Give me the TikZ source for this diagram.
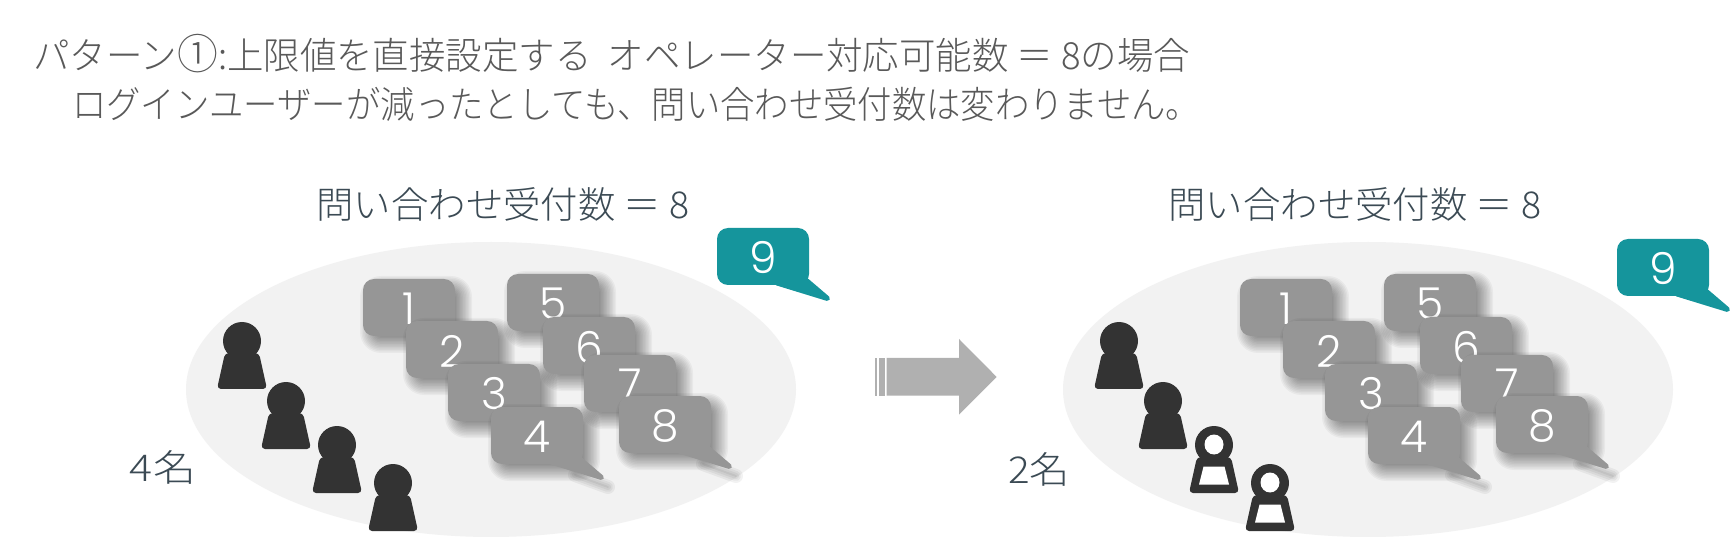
\documentclass[tikz,border=0pt]{standalone}
\usepackage{fontspec}
\setmainfont{Noto Sans CJK JP Light}
\newfontfamily\digf{Poppins Light}
\definecolor{titlegray}{HTML}{595959}
\definecolor{labelc}{HTML}{3B4A54}
\definecolor{ovalc}{HTML}{F2F2F2}
\definecolor{cardc}{HTML}{969696}
\definecolor{tealc}{HTML}{15959C}
\definecolor{darkp}{HTML}{333333}
\definecolor{arrowc}{HTML}{B0B0B0}
\tikzset{
  titletext/.style={anchor=base west,inner sep=0pt,text=titlegray,font=\fontsize{34}{34}\selectfont},
  labeltext/.style={anchor=center,inner sep=0pt,text=labelc,font=\fontsize{37}{37}\selectfont},
  digit/.style={anchor=center,inner sep=0pt,text=white,font=\digf\fontsize{44}{44}\selectfont},
  shadowlayer/.style={fill=black,fill opacity=0.04},
}
\newcommand{\circleone}{\scalebox{1.12}{①}}
% x, y = top-left of bubble
\newcommand{\bubblebox}[2]{(#1,#2+28) [rounded corners=11pt] -- (#1,#2) -- (#1+92,#2) -- (#1+92,#2+57) -- (#1,#2+57) -- cycle}
\newcommand{\bubbletail}[2]{(#1+60,#2+57-2) -- (#1+110.5,#2+57+13.5) -- (#1+90,#2+57-4) -- cycle}
\newcommand{\cardshadow}[3]{%
  \foreach \d in {-10,-8.5,...,8}{
    \pgfmathsetmacro{\rr}{max(3,11-\d)}
    \fill[shadowlayer,rounded corners=\rr pt] (#1+7+\d,#2+7+\d) rectangle (#1+99-\d,#2+64-\d);
  }
  \ifnum#3=1
  \foreach \w in {2,6,10,14}{
    \draw[black,draw opacity=0.05,line width=\w pt,line cap=round] (#1+84,#2+68) -- (#1+117,#2+80);
  }
  \fi}
\newcommand{\card}[5]{% name,x,y,digit,tail
  \cardshadow{#2}{#3}{#5}
  \fill[cardc] \bubblebox{#2}{#3};
  \ifnum#5=1 \path[fill=cardc,draw=cardc,line width=5pt,line join=round] \bubbletail{#2}{#3};\fi
  \node[digit] (#1) at (#2+46,#3+30) {#4};
}
\newcommand{\tealcard}[4]{% name,x,y,digit
  \fill[tealc] \bubblebox{#2}{#3};
  \path[fill=tealc,draw=tealc,line width=5pt,line join=round] \bubbletail{#2}{#3};
  \node[digit] (#1) at (#2+46,#3+30) {#4};
}
\newcommand{\personbody}[1]{[rounded corners=4pt] (#1-17,353) -- (#1+17,353) -- (#1+25,389) -- (#1-25,389) -- cycle}
\newcommand{\personfull}[2]{%
  \fill[darkp,shift={(0,#2)}] (#1,341) circle [radius=19];
  \fill[darkp,shift={(0,#2)}] \personbody{#1};
}
\newcommand{\personopen}[2]{%
  \fill[darkp,shift={(0,#2)}] (#1,341) circle [radius=19];
  \fill[white,shift={(0,#2)}] (#1,340.5) ellipse [x radius=9.5,y radius=10];
  \fill[darkp,shift={(0,#2)}] \personbody{#1};
  \fill[white,shift={(0,#2)}] (#1-10.5,362.5) -- (#1+10.5,362.5) -- (#1+15,380.5) -- (#1-15,380.5) -- cycle;
}
\newcommand{\cardset}[1]{%
  \card{c#1a}{363+#1}{279}{1}{0}
  \card{c#1b}{406+#1}{321}{2}{0}
  \card{c#1c}{448+#1}{364}{3}{0}
  \card{c#1d}{491+#1}{407}{4}{1}
  \card{c#1e}{507+#1}{274}{5}{0}
  \card{c#1f}{543+#1}{317}{6}{0}
  \card{c#1g}{584+#1}{355}{7}{0}
  \card{c#1h}{619+#1}{396}{8}{1}
}
\begin{document}
\begin{tikzpicture}[x=1pt,y=-1pt]
\useasboundingbox (0,0) rectangle (1733,537);
\fill[white] (0,0) rectangle (1733,537);
% titles
\node[titletext] (t1) at (33,70) {\resizebox{1157pt}{1.1\height}{パターン\circleone:上限値を直接設定する\ \ オペレーター対応可能数\ ＝\ 8の場合}};
\node[titletext] (t2) at (72,119) {\resizebox{1128pt}{1.1\height}{ログインユーザーが減ったとしても、問い合わせ受付数は変わりません。}};
\node[labeltext] (h1) at (503,204) {\resizebox{373pt}{\height}{問い合わせ受付数\ ＝\ 8}};
\node[labeltext] (h2) at (1355,204) {\resizebox{373pt}{\height}{問い合わせ受付数\ ＝\ 8}};
% ovals
\fill[ovalc] (491,389.5) ellipse [x radius=305,y radius=147.5];
\fill[ovalc] (1368,389.5) ellipse [x radius=305,y radius=147.5];
% cards
\cardset{0}
\cardset{877}
\tealcard{n9a}{717}{228}{9}
\tealcard{n9b}{1617}{239}{9}
% persons
\personfull{242}{0}
\personfull{286}{60}
\personfull{337}{104}
\personfull{393}{142}
\personfull{1119}{0}
\personfull{1163}{60}
\personopen{1214}{104}
\personopen{1270}{142}
% counts
\node[labeltext] (l1) at (163,467) {\resizebox{66pt}{\height}{4名}};
\node[labeltext] (l2) at (1039,469) {\resizebox{62pt}{\height}{2名}};
% arrow
\fill[arrowc] (886.7,358) -- (959,358) -- (959,339) -- (996.7,377) -- (959,414.7) -- (959,395.7) -- (886.7,395.7) -- cycle;
\foreach \sx/\sw in {875/2.3,879/6}{
  \fill[arrowc] (\sx,358) rectangle (\sx+\sw,395.7);
}
\end{tikzpicture}
\end{document}
